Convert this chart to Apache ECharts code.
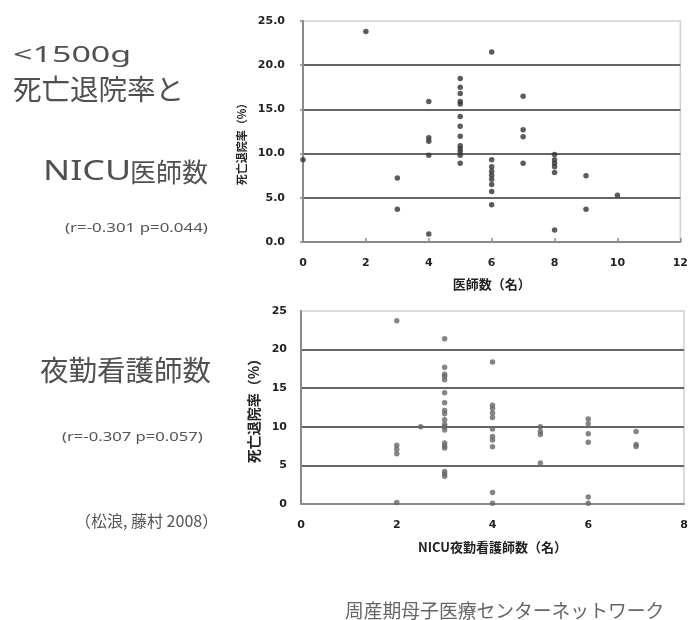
<!DOCTYPE html>
<html>
<head>
<meta charset="utf-8">
<script src="https://cdn.jsdelivr.net/npm/echarts@6/dist/echarts.min.js"></script>
<style>
  html, body { margin: 0; padding: 0; background: #fff; }
  #chart { width: 691px; height: 620px; }
</style>
</head>
<body>
<div id="chart"></div>
<script>
// NICU doctors per unit (x) and mortality at discharge, % (one list per x value)
const doctorCounts = [0, 2, 3, 4, 5, 6, 7, 8, 9, 10];
const doctorRates = [
  [9.3],
  [23.8],
  [7.25, 3.7],
  [15.9, 11.8, 11.4, 9.8, 0.9],
  [18.5, 17.5, 16.8, 15.9, 15.6, 14.2, 13.1, 11.95, 10.9, 10.55, 10.2, 9.8, 8.9],
  [21.5, 9.3, 8.5, 8.0, 7.55, 7.1, 6.5, 5.7, 4.2],
  [16.5, 12.7, 11.9, 8.9],
  [9.9, 9.3, 8.9, 8.5, 7.85, 1.35],
  [7.5, 3.7],
  [5.3]
];

// NICU night-shift nurses (x) and mortality at discharge, %
const nurseCounts = [2, 2.5, 3, 4, 5, 6, 7];
const nurseRates = [
  [23.75, 7.6, 7.1, 6.5, 0.2],
  [10.0],
  [21.4, 17.7, 16.8, 16.5, 16.1, 14.4, 13.1, 12.1, 11.7, 10.9, 10.3, 10.0, 9.6, 7.9, 7.5, 7.25, 4.2, 3.9, 3.6],
  [18.4, 12.8, 12.4, 11.8, 11.2, 9.7, 8.75, 8.3, 7.4, 1.5, 0.1],
  [10.0, 9.4, 9.0, 5.3],
  [11.0, 10.4, 9.1, 8.0, 0.9, 0.1],
  [9.4, 7.7, 7.45]
];

const doctorTicks = [0, 2, 4, 6, 8, 10, 12];
const doctorRateTicks = [0, 5, 10, 15, 20, 25];
const nurseTicks = [0, 2, 4, 6, 8];
const nurseRateTicks = [0, 5, 10, 15, 20, 25];

function toPairs(xs, groups) {
  const out = [];
  xs.forEach((x, i) => groups[i].forEach(v => out.push([x, v])));
  return out;
}

const tickFont = '"DejaVu Sans", "Noto Sans CJK JP", sans-serif';
const cjkFont = '"Noto Sans CJK JP", "Noto Sans", sans-serif';

const chart = echarts.init(document.getElementById('chart'), null, { renderer: 'canvas' });

function axisBase() {
  return {
    type: 'value',
    axisLine: { show: true, lineStyle: { color: '#8a8a8a', width: 2 } },
    axisLabel: { color: '#222', fontFamily: tickFont, fontWeight: 'bold', fontSize: 11 },
    nameTextStyle: { color: '#222', fontFamily: cjkFont, fontWeight: 'bold' }
  };
}

const option = {
  backgroundColor: '#fff',
  animation: false,
  grid: [
    { left: 303, top: 21, width: 378, height: 221, show: true, borderColor: '#cfcfcf', borderWidth: 1.5, backgroundColor: 'transparent' },
    { left: 301, top: 311, width: 383, height: 193, show: true, borderColor: '#cfcfcf', borderWidth: 1.5, backgroundColor: 'transparent' }
  ],
  xAxis: [
    Object.assign(axisBase(), {
      gridIndex: 0,
      min: doctorTicks[0], max: doctorTicks[doctorTicks.length - 1], interval: 2,
      splitLine: { show: false },
      axisTick: { show: true, inside: true, length: 4, lineStyle: { color: '#8a8a8a', width: 1.5 } },
      axisLabel: { color: '#222', fontFamily: tickFont, fontWeight: 'bold', fontSize: 11, margin: 16 },
      name: '医師数（名）', nameLocation: 'middle', nameGap: 36,
      nameTextStyle: { color: '#222', fontFamily: cjkFont, fontWeight: 'bold', fontSize: 13 }
    }),
    Object.assign(axisBase(), {
      gridIndex: 1,
      min: nurseTicks[0], max: nurseTicks[nurseTicks.length - 1], interval: 2,
      splitLine: { show: false },
      axisTick: { show: false },
      axisLabel: { color: '#222', fontFamily: tickFont, fontWeight: 'bold', fontSize: 11, margin: 16 },
      name: 'NICU夜勤看護師数（名）', nameLocation: 'middle', nameGap: 37,
      nameTextStyle: { color: '#222', fontFamily: cjkFont, fontWeight: 'bold', fontSize: 13 }
    })
  ],
  yAxis: [
    Object.assign(axisBase(), {
      gridIndex: 0,
      min: doctorRateTicks[0], max: doctorRateTicks[doctorRateTicks.length - 1], interval: 5,
      splitLine: { show: true, showMinLine: false, showMaxLine: false, lineStyle: { color: '#666', width: 1.8 } },
      axisTick: { show: true, length: 3, lineStyle: { color: '#8a8a8a', width: 1.5 } },
      axisLabel: { color: '#222', fontFamily: tickFont, fontWeight: 'bold', fontSize: 11, margin: 18,
        formatter: v => v.toFixed(1) },
      name: '死亡退院率（%）', nameLocation: 'middle', nameGap: 56,
      nameTextStyle: { color: '#222', fontFamily: cjkFont, fontWeight: 'bold', fontSize: 11, padding: [0, 20, 0, 0] }
    }),
    Object.assign(axisBase(), {
      gridIndex: 1,
      min: nurseRateTicks[0], max: nurseRateTicks[nurseRateTicks.length - 1], interval: 5,
      splitLine: { show: true, showMinLine: false, showMaxLine: false, lineStyle: { color: '#666', width: 1.8 } },
      axisTick: { show: false },
      axisLabel: { color: '#222', fontFamily: tickFont, fontWeight: 'bold', fontSize: 11, margin: 14 },
      name: '死亡退院率（%）', nameLocation: 'middle', nameGap: 34,
      nameTextStyle: { color: '#222', fontFamily: cjkFont, fontWeight: 'bold', fontSize: 14 }
    })
  ],
  series: [
    {
      type: 'scatter', xAxisIndex: 0, yAxisIndex: 0,
      data: toPairs(doctorCounts, doctorRates),
      symbol: 'circle', symbolSize: 5.5,
      itemStyle: { color: '#333' }
    },
    {
      type: 'scatter', xAxisIndex: 1, yAxisIndex: 1,
      data: toPairs(nurseCounts, nurseRates),
      symbol: 'circle', symbolSize: 5.5,
      itemStyle: { color: '#666' }
    }
  ],
  graphic: [
    { type: 'text', x: 13, y: 56, scaleX: 1.62,
      style: { text: '<1500g', fontSize: 21, fontFamily: '"Noto Sans", sans-serif', fill: '#505050', align: 'left', verticalAlign: 'middle' } },
    { type: 'text', x: 13, y: 89.5,
      style: { text: '死亡退院率と', fontSize: 28.5, fontFamily: cjkFont, fill: '#505050', align: 'left', verticalAlign: 'middle' } },
    { type: 'text', x: 43, y: 172.5, scaleX: 1.35,
      style: { text: 'NICU', fontSize: 26.5, fontFamily: '"Noto Sans", sans-serif', fill: '#505050', align: 'left', verticalAlign: 'middle' } },
    { type: 'text', x: 130, y: 172.5,
      style: { text: '医師数', fontSize: 26, fontFamily: cjkFont, fill: '#505050', align: 'left', verticalAlign: 'middle' } },
    { type: 'text', x: 65, y: 228.5, scaleX: 1.35,
      style: { text: '(r=-0.301 p=0.044)', fontSize: 12.5, fontFamily: '"Noto Sans", sans-serif', fill: '#555', align: 'left', verticalAlign: 'middle' } },
    { type: 'text', x: 40, y: 370.5,
      style: { text: '夜勤看護師数', fontSize: 28.5, fontFamily: cjkFont, fill: '#505050', align: 'left', verticalAlign: 'middle' } },
    { type: 'text', x: 62, y: 437.5, scaleX: 1.33,
      style: { text: '(r=-0.307 p=0.057)', fontSize: 12.5, fontFamily: '"Noto Sans", sans-serif', fill: '#555', align: 'left', verticalAlign: 'middle' } },
    { type: 'text', x: 75, y: 520.5,
      style: { text: '（松浪, 藤村 2008）', fontSize: 16, fontFamily: cjkFont, fill: '#555', align: 'left', verticalAlign: 'middle' } },
    { type: 'text', x: 345, y: 610.5,
      style: { text: '周産期母子医療センターネットワーク', fontSize: 18.8, fontFamily: cjkFont, fill: '#666', align: 'left', verticalAlign: 'middle' } }
  ]
};

chart.setOption(option);
</script>
</body>
</html>
